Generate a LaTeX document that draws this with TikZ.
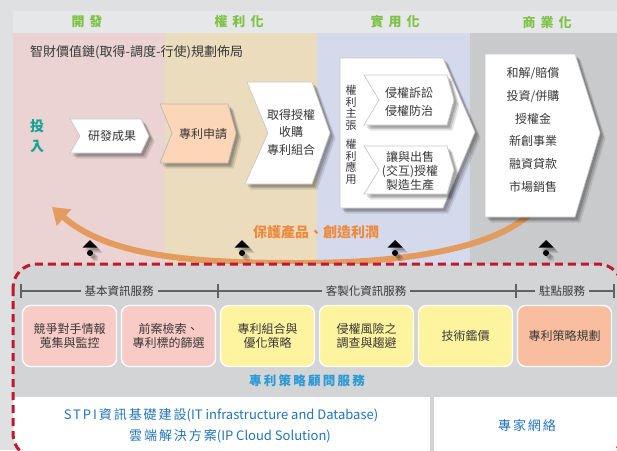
\documentclass[tikz,border=0pt]{standalone}
\usepackage{fontspec}
\setmainfont{Noto Sans CJK TC}
\usetikzlibrary{shadows,arrows.meta}

\definecolor{outerbg}{HTML}{DFE0E2}
\definecolor{headbg}{HTML}{E6E7E9}
\definecolor{colA}{HTML}{EBD3D3}
\definecolor{colB}{HTML}{ECDCBE}
\definecolor{colC}{HTML}{D5D9EC}
\definecolor{colD}{HTML}{C9CACC}
\definecolor{boxbg}{HTML}{D3D4D6}
\definecolor{dashred}{HTML}{C2182F}
\definecolor{headgreen}{HTML}{7DC243}
\definecolor{tealc}{HTML}{17A394}
\definecolor{arcorange}{HTML}{E39B5E}
\definecolor{txtorange}{HTML}{EE8A3C}
\definecolor{txtdark}{HTML}{383838}
\definecolor{peach}{HTML}{FDD5B7}
\definecolor{svpink}{HTML}{F9CBC6}
\definecolor{svyellow}{HTML}{FEF39E}
\definecolor{svsalmon}{HTML}{F9BE9F}
\definecolor{blueA}{HTML}{2A9AD6}
\definecolor{blueB}{HTML}{2373BA}

\begin{document}
\begin{tikzpicture}[x=1pt,y=-1pt,
  softshadow/.style={
    general shadow={fill=black,opacity=.10,shadow xshift=5.5pt,shadow yshift=-5.5pt},
    general shadow={fill=black,opacity=.14,shadow xshift=4pt,shadow yshift=-4pt},
    general shadow={fill=black,opacity=.16,shadow xshift=2.5pt,shadow yshift=-2.5pt}},
  chev/.style={fill=white, draw=black!22, line width=0.7pt, softshadow},
  lbl/.style={font=\fontsize{12}{14}\selectfont, text=txtdark, align=center, inner sep=0pt},
  headlbl/.style={font=\fontsize{13}{13}\selectfont\bfseries, text=headgreen, inner sep=0pt},
  svc/.style={rounded corners=8pt, draw=white, line width=1.3pt, minimum width=94pt,
    minimum height=61pt, font=\fontsize{12}{14}\selectfont, text=txtdark, align=center},
  brk/.style={fill=boxbg, inner xsep=4pt, inner ysep=1pt, font=\fontsize{11.5}{12}\selectfont, text=txtdark},
  marker/.style={fill=black, softshadow}
]
\useasboundingbox (0,0) rectangle (617,450);
\fill[outerbg] (0,0) rectangle (617,450);

% header band and columns
\fill[headbg] (13,11) rectangle (617,33);
\fill[colA] (13,33) rectangle (165,282);
\fill[colB] (165,33) rectangle (317,282);
\fill[colC] (317,33) rectangle (470,282);
\fill[colD] (470,33) rectangle (617,282);

\node[headlbl] (hA) at (87,22) {開\hspace{5pt}發};
\node[headlbl] (hB) at (239,22) {權\hspace{5pt}利\hspace{5pt}化};
\node[headlbl] (hC) at (395,22) {實\hspace{5pt}用\hspace{5pt}化};
\node[headlbl] (hD) at (547,22) {商\hspace{5pt}業\hspace{5pt}化};

\node[anchor=west, inner sep=0pt, font=\fontsize{13}{13}\selectfont, text=txtdark] (title) at (30,52)
  {智財價值鏈(取得-調度-行使)規劃佈局};

% orange arc
\coordinate (arcS) at (530,214);
\coordinate (arcM) at (300,263);
\coordinate (arcE) at (52,207);
\draw[arcorange, line width=6pt, -{Triangle[length=16pt,width=21pt]}]
  (arcS) .. controls (490,250) and (400,263) .. (arcM)
         .. controls (200,263) and (110,258) .. (arcE);

% dashed service box
\fill[boxbg, rounded corners=24pt] (13,264) rectangle (622,458);
\begin{scope}
  \clip[rounded corners=24pt] (13,264) rectangle (622,458);
  \fill[white] (13,397) rectangle (430,470);
  \fill[white] (434,397) rectangle (630,470);
\end{scope}
\draw[dashred, line width=3pt, dash pattern=on 8pt off 5pt, rounded corners=24pt] (13,264) rectangle (622,458);

% chevrons
\path[chev] (70,119) -- (141,119) -- (149,136) -- (141,153) -- (70,153) -- (80,136) -- cycle;
\path[chev, fill=peach, draw=black!28] (160,104) -- (228,104) -- (236,133) -- (228,163) -- (160,163) -- (172,133) -- cycle;
\path[chev] (247,82) -- (312,82) -- (330,133) -- (312,184) -- (245,184) -- (268,133) -- cycle;
\path[chev] (340,58) -- (443,58) -- (475,132) -- (443,208) -- (340,208) -- cycle;
\path[chev] (364,75) -- (447,75) -- (454,100) -- (447,125) -- (364,125) -- (379,100) -- cycle;
\path[chev] (364,146) -- (447,146) -- (454,170) -- (447,194) -- (364,194) -- (379,170) -- cycle;
\path[chev] (485,54) -- (575,54) -- (600,133) -- (575,217) -- (485,217) -- cycle;

\node[font=\fontsize{14}{20}\selectfont\bfseries, text=tealc, align=center, inner sep=0pt] (input) at (37,136) {投\\入};
\node[lbl] (c1) at (112,136) {研發成果};
\node[lbl] (c2) at (203,134) {專利申請};
\node[lbl, font=\fontsize{12}{17.5}\selectfont] (c3) at (291,132) {取得授權\\收購\\專利組合};
\node[lbl, font=\fontsize{11}{11.5}\selectfont] (v1) at (351,108) {權\\利\\主\\張};
\node[lbl, font=\fontsize{11}{11.5}\selectfont] (v2) at (351,162) {權\\利\\應\\用};
\node[lbl, font=\fontsize{12}{18}\selectfont] (c4a) at (409,102) {侵權訴訟\\侵權防治};
\node[lbl, font=\fontsize{12}{14}\selectfont] (c4b) at (410,171) {讓與出售\\(交互)授權\\製造生產};
\node[lbl, font=\fontsize{12}{22.8}\selectfont] (c5) at (533,130) {和解/賠償\\投資/併購\\授權金\\新創事業\\融資貸款\\市場銷售};

\node[font=\fontsize{14}{14}\selectfont\bfseries, text=txtorange, inner sep=0pt] (profit) at (316,232) {保護產品、創造利潤};

% small up markers
\foreach \x/\n in {90/a,242/b,395/c,546/d}{
  \path[marker] (\x,240) -- (\x+7.5,247.5) -- (\x-7.5,247.5) -- cycle;
  \path[marker] (\x,253) circle (3);
}

% bracket row
\draw[black!62, line width=1.1pt] (21,291) -- (614,291);
\foreach \x in {21,218,516,614} \draw[black!62, line width=1.1pt] (\x,284) -- (\x,298);
\node[brk] (b1) at (119,291) {基本資訊服務};
\node[brk] (b2) at (366,291) {客製化資訊服務};
\node[brk] (b3) at (562,291) {駐點服務};

% service boxes
\node[svc, fill=svpink] (s1) at (69.5,336) {競爭對手情報\\蒐集與監控};
\node[svc, fill=svpink] (s2) at (168.5,336) {前案檢索、\\專利標的篩選};
\node[svc, fill=svyellow] (s3) at (267.5,336) {專利組合與\\優化策略};
\node[svc, fill=svyellow] (s4) at (366.5,336) {侵權風險之\\調查與趨避};
\node[svc, fill=svyellow] (s5) at (465.5,336) {技術鑑價};
\node[svc, fill=svsalmon] (s6) at (564.5,336) {專利策略規劃};

\node[font=\fontsize{12.5}{13}\selectfont\bfseries\addfontfeature{LetterSpace=18}, text=blueA, inner sep=0pt] (consult) at (307,381) {專利策略顧問服務};

\node[font=\fontsize{13}{13}\selectfont, text=blueB, inner sep=0pt] (stpi1) at (221,415)
  {{\addfontfeature{LetterSpace=15}STPI資訊基礎建設}(IT infrastructure and Database)};
\node[font=\fontsize{13}{13}\selectfont, text=blueB, inner sep=0pt] (stpi2) at (230,436)
  {{\addfontfeature{LetterSpace=15}雲端解決方案}(IP Cloud Solution)};
\node[font=\fontsize{13}{13}\selectfont\addfontfeature{LetterSpace=15}, text=blueB, inner sep=0pt] (expert) at (527,426) {專家網絡};
\end{tikzpicture}
\end{document}
